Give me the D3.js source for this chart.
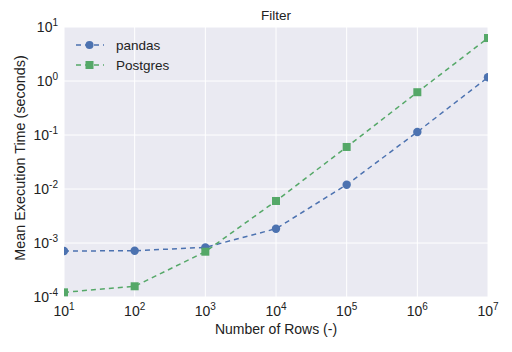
<!DOCTYPE html>
<html><head><meta charset="utf-8">
<script src="https://cdn.jsdelivr.net/npm/d3@7"></script>
<style>body{margin:0;background:#fff}svg{display:block;font-family:"Liberation Sans",Arial,sans-serif}</style>
</head><body><svg id="c" width="512" height="352"></svg>
<script>
const rows = [1e1, 1e2, 1e3, 1e4, 1e5, 1e6, 1e7];
const pandas = [7.1e-4, 7.2e-4, 8.3e-4, 1.84e-3, 0.012, 0.114, 1.17];
const postgres = [1.22e-4, 1.58e-4, 6.9e-4, 6.0e-3, 0.06, 0.62, 6.25];
const xTickExp = [1, 2, 3, 4, 5, 6, 7];
const yTickExp = [-4, -3, -2, -1, 0, 1];
const seriesNames = ["pandas", "Postgres"];
const colors = ["#4C72B0", "#55A868"];

const svg = d3.select("#c");
const m = {l: 64, r: 24, t: 27, b: 55};
const W = 512, H = 352;
const x = d3.scaleLog().domain([1e1, 1e7]).range([m.l, W - m.r]);
const y = d3.scaleLog().domain([1e-4, 1e1]).range([H - m.b, m.t]);

svg.append("rect").attr("x", m.l).attr("y", m.t)
  .attr("width", W - m.l - m.r).attr("height", H - m.t - m.b).attr("fill", "#EAEAF2");
svg.append("clipPath").attr("id", "clip").append("rect")
  .attr("x", m.l).attr("y", m.t).attr("width", W - m.l - m.r).attr("height", H - m.t - m.b);

const g = svg.append("g");
xTickExp.forEach(e => g.append("line").attr("x1", x(10 ** e)).attr("x2", x(10 ** e))
  .attr("y1", m.t).attr("y2", H - m.b).attr("stroke", "#fff").attr("stroke-width", 1));
yTickExp.forEach(e => g.append("line").attr("y1", y(10 ** e)).attr("y2", y(10 ** e))
  .attr("x1", m.l).attr("x2", W - m.r).attr("stroke", "#fff").attr("stroke-width", 1));

function pow10(sel, e) {
  sel.append("tspan").text("10");
  sel.append("tspan").attr("dy", -6).attr("font-size", 10).text(e);
}
xTickExp.forEach(e => {
  const t = svg.append("text").attr("x", x(10 ** e)).attr("y", 316)
    .attr("text-anchor", "middle").attr("font-size", 14).attr("fill", "#222");
  pow10(t, e);
});
yTickExp.forEach(e => {
  const t = svg.append("text").attr("x", 58).attr("y", y(10 ** e) + 5)
    .attr("text-anchor", "end").attr("font-size", 14).attr("fill", "#222");
  pow10(t, e);
});

const data = [pandas, postgres];
const pg = svg.append("g").attr("clip-path", "url(#clip)");
const line = d3.line().x((d, i) => x(rows[i])).y(d => y(d));
data.forEach((s, k) => {
  pg.append("path").datum(s).attr("d", line).attr("fill", "none")
    .attr("stroke", colors[k]).attr("stroke-width", 1.5).attr("stroke-dasharray", "5,4");
});
pg.selectAll(".c").data(pandas).join("circle").attr("cx", (d, i) => x(rows[i])).attr("cy", d => y(d))
  .attr("r", 4.2).attr("fill", colors[0]);
pg.selectAll(".s").data(postgres).join("rect").attr("x", (d, i) => x(rows[i]) - 4).attr("y", d => y(d) - 4)
  .attr("width", 8).attr("height", 8).attr("fill", colors[1]);

// legend
seriesNames.forEach((n, k) => {
  const ly = 45 + k * 20;
  svg.append("line").attr("x1", 76).attr("x2", 104).attr("y1", ly).attr("y2", ly)
    .attr("stroke", colors[k]).attr("stroke-width", 1.5).attr("stroke-dasharray", "5,4");
  if (k === 0) svg.append("circle").attr("cx", 89.5).attr("cy", ly).attr("r", 4).attr("fill", colors[k]);
  else svg.append("rect").attr("x", 85.5).attr("y", ly - 4).attr("width", 8).attr("height", 8).attr("fill", colors[k]);
  svg.append("text").attr("x", 116).attr("y", ly + 5).attr("font-size", 13.5).attr("fill", "#222").text(n);
});

svg.append("text").attr("x", 276).attr("y", 20).attr("text-anchor", "middle")
  .attr("font-size", 13.5).attr("fill", "#222").text("Filter");
svg.append("text").attr("x", 276).attr("y", 334).attr("text-anchor", "middle")
  .attr("font-size", 14).attr("fill", "#222").text("Number of Rows (-)");
svg.append("text").attr("transform", "translate(25,158) rotate(-90)").attr("text-anchor", "middle")
  .attr("font-size", 14.4).attr("fill", "#222").text("Mean Execution Time (seconds)");
</script></body></html>
